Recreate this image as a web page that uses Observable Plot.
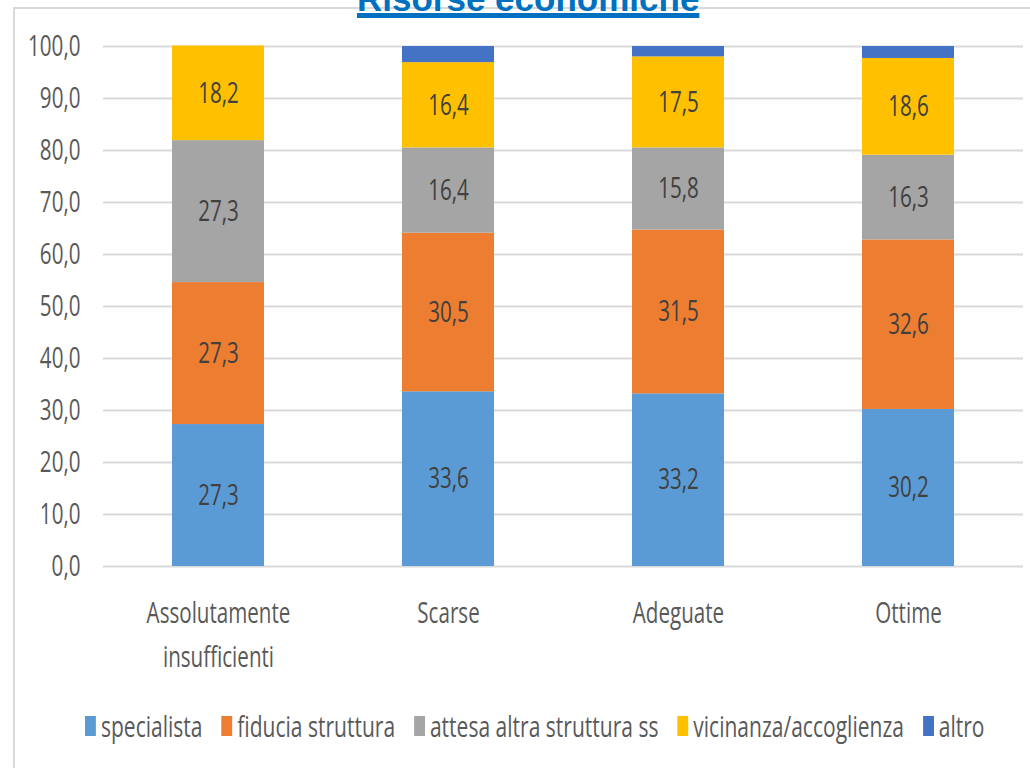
<!DOCTYPE html>
<html>
<head>
<meta charset="utf-8">
<script src="https://cdn.jsdelivr.net/npm/d3@7"></script>
<script src="https://cdn.jsdelivr.net/npm/@observablehq/plot@0.6"></script>
<style>
  html, body { margin: 0; padding: 0; background: #fff; }
  #wrap { position: relative; width: 1030px; height: 768px; overflow: hidden; background: #fff; }
  #frame { position: absolute; left: 13px; top: 7px; width: 1100px; height: 900px;
           border-left: 2px solid #d9d9d9; border-top: 2px solid #d9d9d9; box-sizing: border-box; }
  #chart { position: absolute; left: 0; top: 0; }
  #title { position: absolute; left: 357px; top: -19px; font: bold 35px/35px "Liberation Sans", Arial, sans-serif;
           color: #0070C0; text-decoration: underline; text-decoration-thickness: 5px;
           text-underline-offset: 2px; white-space: nowrap; z-index: 3; }
  #legend { position: absolute; left: 85px; top: 706px; display: flex; align-items: center;
            font-family: "Open Sans", sans-serif; font-size: 29px; color: #595959; white-space: nowrap;
            transform: scaleX(0.725); transform-origin: 0 0; }
  #legend .item { display: flex; align-items: center; margin-right: 26px; }
  #legend .sw { width: 15px; height: 20px; margin-right: 7px; }
</style>
</head>
<body>
<div id="wrap">
  <div id="frame"></div>
  <div id="chart"></div>
  <div id="title">Risorse economiche</div>
  <div id="legend"></div>
</div>
<script>
const categories = ["Assolutamente insufficienti", "Scarse", "Adeguate", "Ottime"];
const categoryLabels = ["Assolutamente\ninsufficienti", "Scarse", "Adeguate", "Ottime"];
const series = ["specialista", "fiducia struttura", "attesa altra struttura ss", "vicinanza/accoglienza", "altro"];
const specialista = [27.3, 33.6, 33.2, 30.2];
const fiducia = [27.3, 30.5, 31.5, 32.6];
const attesa = [27.3, 16.4, 15.8, 16.3];
const vicinanza = [18.2, 16.4, 17.5, 18.6];
const altro = [0, 3.1, 2.0, 2.3];
const colors = ["#5B9BD5", "#ED7D31", "#A5A5A5", "#FFC000", "#4472C4"];
const yTicks = [0, 10, 20, 30, 40, 50, 60, 70, 80, 90, 100];

const valuesBySeries = [specialista, fiducia, attesa, vicinanza, altro];
const table = [];
series.forEach((s, si) => {
  categories.forEach((c, ci) => {
    table.push({series: s, category: c, value: valuesBySeries[si][ci]});
  });
});
const labelled = table.filter(d => d.series !== "altro");
const fmt = v => v.toFixed(1).replace(".", ",");
const font = '"Open Sans", sans-serif';
const FS = 29;
const SQUEEZE = 0.71;

const chart = Plot.plot({
  width: 1030,
  height: 690,
  marginTop: 46,
  marginBottom: 124,
  marginLeft: 103,
  marginRight: 7,
  style: {fontFamily: font, fontSize: FS + "px", color: "#595959", background: "transparent"},
  x: {domain: categories, paddingInner: 0.6, paddingOuter: 0.3, label: null},
  y: {domain: [0, 100], label: null},
  color: {domain: series, range: colors},
  marks: [
    Plot.ruleY(yTicks, {stroke: "#d9d9d9", strokeWidth: 2}),
    Plot.barY(table, {x: "category", y: "value", fill: "series"}),
    Plot.text(labelled, Plot.stackY({x: "category", y: "value", text: d => fmt(d.value), fill: "#404040", fontSize: FS})),
    Plot.axisY({ticks: yTicks, tickSize: 0, tickPadding: 23, tickFormat: fmt, fontSize: FS, label: null}),
    Plot.axisX({tickSize: 0, tickPadding: 26, fontSize: FS, lineHeight: 1.5, label: null,
      tickFormat: d => categoryLabels[categories.indexOf(d)]})
  ]
});
document.getElementById("chart").appendChild(chart);

// condense the glyphs horizontally (the reference uses a narrow face)
chart.querySelectorAll("text").forEach(t => {
  const spans = t.querySelectorAll("tspan");
  const targets = spans.length ? Array.from(spans) : [t];
  targets.forEach(el => {
    const len = el.getComputedTextLength();
    if (len > 0) {
      el.setAttribute("textLength", (len * SQUEEZE).toFixed(2));
      el.setAttribute("lengthAdjust", "spacingAndGlyphs");
    }
  });
});

const legend = document.getElementById("legend");
series.forEach((s, i) => {
  const item = document.createElement("div");
  item.className = "item";
  const sw = document.createElement("div");
  sw.className = "sw";
  sw.style.background = colors[i];
  const t = document.createElement("span");
  t.textContent = s;
  item.appendChild(sw);
  item.appendChild(t);
  legend.appendChild(item);
});
</script>
</body>
</html>
